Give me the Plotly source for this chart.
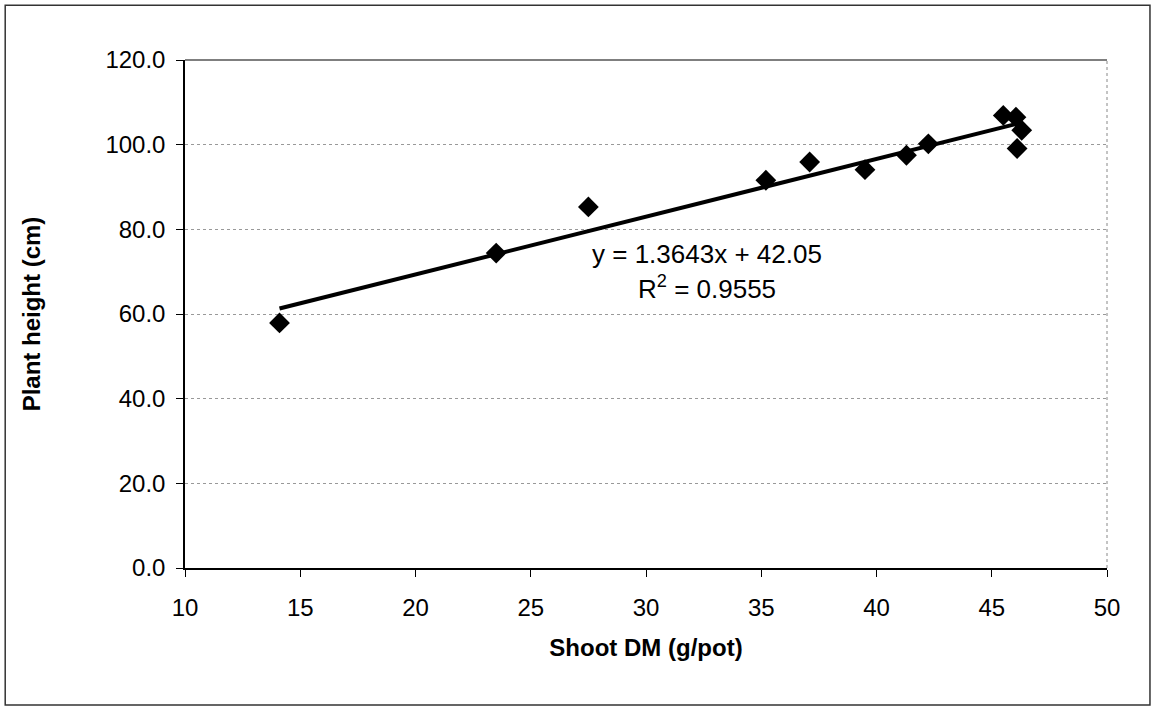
import plotly.graph_objects as go

# Data
shoot_dm = [14.1, 23.5, 27.5, 35.2, 37.1, 39.5, 41.3, 42.25, 45.5, 46.05, 46.3, 46.1]
plant_height = [57.9, 74.4, 85.3, 91.6, 95.9, 94.1, 97.5, 100.2, 106.9, 106.5, 103.4, 99.1]
slope = 1.3643
intercept = 42.05
r_squared = 0.9555
x_ticks = [10, 15, 20, 25, 30, 35, 40, 45, 50]
y_ticks = [0, 20, 40, 60, 80, 100, 120]

font = "Liberation Sans, Arial, sans-serif"

x_fit = [min(shoot_dm), max(shoot_dm)]
y_fit = [slope * v + intercept for v in x_fit]

fig = go.Figure()
fig.add_trace(go.Scatter(
    x=x_fit, y=y_fit, mode="lines",
    line=dict(color="black", width=4), showlegend=False, hoverinfo="skip"))
fig.add_trace(go.Scatter(
    x=shoot_dm, y=plant_height, mode="markers",
    marker=dict(symbol="diamond", size=16, color="black"), showlegend=False))

fig.add_annotation(
    x=32.65, y=74.1, xref="x", yref="y",
    text=f"y = {slope}x + {intercept}",
    showarrow=False, align="center",
    font=dict(family=font, size=26, color="black"))
fig.add_annotation(
    x=32.65, y=66.2, xref="x", yref="y",
    text=f"R<sup>2</sup> = {r_squared}",
    showarrow=False, align="center",
    font=dict(family=font, size=26, color="black"))

# outer frame
fig.add_shape(type="rect", xref="paper", yref="paper",
              x0=-0.195, x1=1.0466, y0=-0.2697, y1=1.108,
              line=dict(color="#333333", width=1.5))
# right border of plot area (dotted)
fig.add_shape(type="line", xref="paper", yref="paper",
              x0=1, x1=1, y0=0, y1=1,
              line=dict(color="#888888", width=1, dash="dot"))
# top border
fig.add_shape(type="line", xref="paper", yref="paper",
              x0=0, x1=1, y0=1, y1=1,
              line=dict(color="#555555", width=1.5))

fig.update_layout(
    width=1156, height=707,
    margin=dict(l=185, r=49, t=60, b=139),
    paper_bgcolor="white", plot_bgcolor="white",
    font=dict(family=font, color="black"),
    xaxis=dict(
        range=[10, 50], tickvals=x_ticks, ticktext=[str(v) for v in x_ticks],
        showgrid=False, zeroline=False,
        showline=True, linecolor="black", linewidth=1.5,
        ticks="outside", ticklen=7, tickcolor="black",
        ticklabelstandoff=10,
        tickfont=dict(size=24, family=font),
        title=dict(text="<b>Shoot DM (g/pot)</b>", font=dict(size=24, family=font), standoff=20)),
    yaxis=dict(
        range=[0, 120], tickvals=y_ticks, ticktext=[f"{v:.1f}" for v in y_ticks],
        showgrid=True, gridcolor="#999999", griddash="dot", gridwidth=1,
        zeroline=False,
        showline=True, linecolor="black", linewidth=1.5,
        ticks="outside", ticklen=7, tickcolor="black",
        ticklabelstandoff=6,
        tickfont=dict(size=24, family=font),
        title=dict(text="<b>Plant height (cm)</b>", font=dict(size=24, family=font), standoff=58)),
)

fig.write_html("out.html")
